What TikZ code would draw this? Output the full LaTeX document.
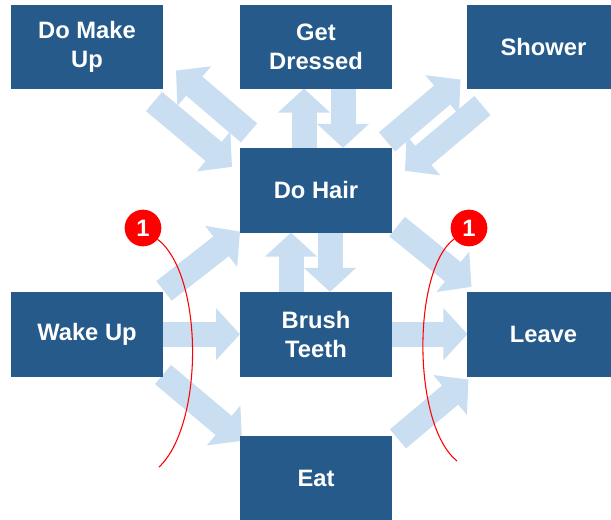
\documentclass[tikz,border=0pt]{standalone}
\usepackage{fontspec}
\setmainfont{Liberation Sans}
\usetikzlibrary{positioning,arrows.meta,backgrounds}
\definecolor{boxblue}{HTML}{255A8A}
\definecolor{flowblue}{HTML}{C9DEF1}

\begin{document}
\begin{tikzpicture}[
  x=0.75pt, y=-0.75pt,
  node distance=44.5pt and 57.75pt,
  font=\fontsize{17.8}{21.75}\selectfont\bfseries,
  stepbox/.style={fill=boxblue, text=white, minimum width=114pt, minimum height=63.5pt,
                  inner sep=0pt, outer sep=0pt, align=center},
  toprow/.style={stepbox, minimum height=62.5pt},
  badge/.style={circle, fill=red, text=white, minimum size=27.5pt, inner sep=0pt, outer sep=0pt},
  fl/.style={-{Triangle[length=18pt,width=38pt]}, line width=18.75pt, flowblue},
  arc line/.style={red, line width=0.8pt}
]
\clip (0,0) rectangle (611,519);
\useasboundingbox (0,0) rectangle (611,519);

\node[stepbox] (brush) at (316,334.2) {Brush\\Teeth};
\node[stepbox, above=of brush] (hair) {Do Hair};
\node[toprow, above=of hair] (dressed) {Get\\Dressed};
\node[toprow, left=of dressed] (makeup) {Do Make\\Up};
\node[toprow, right=56.6pt of dressed] (shower) {Shower};
\node[stepbox, left=of brush] (wake) {Wake Up};
\node[stepbox, right=56.6pt of brush] (leave) {Leave};
\node[stepbox, below=of brush] (eat) {Eat};

\begin{scope}[on background layer]
\foreach \a/\b in {wake/brush, brush/leave} \draw[fl] (\a) -- (\b);
% up and down pairs
\draw[fl] ([xshift=-12*0.75pt]hair.north) -- ([xshift=-12*0.75pt]dressed.south);
\draw[fl] ([xshift=27*0.75pt]dressed.south) -- ([xshift=27*0.75pt]hair.north);
\draw[fl] ([xshift=-25*0.75pt]brush.north) -- ([xshift=-25*0.75pt]hair.south);
\draw[fl] ([xshift=14*0.75pt]hair.south) -- ([xshift=14*0.75pt]brush.north);
% diagonals
\draw[fl] ([shift={(9,-15)}]hair.north west) -- ([shift={(13,-18)}]makeup.south east);
\draw[fl] ([shift={(-9,13)}]makeup.south east) -- ([shift={(-8,19)}]hair.north west);
\draw[fl] ([shift={(-5,-6)}]hair.north east) -- ([shift={(-7,-9)}]shower.south west);
\draw[fl] ([shift={(15,17)}]shower.south west) -- ([shift={(13,23)}]hair.north east);
\draw[fl] ([shift={(1,-1)}]wake.north east) -- ([shift={(0,-1)}]hair.south west);
\draw[fl] ([shift={(0,-2)}]wake.south east) -- ([shift={(2,5)}]eat.north west);
\draw[fl] ([shift={(5,-6)}]hair.south east) -- ([shift={(4,-5)}]leave.north west);
\draw[fl] ([shift={(6,3)}]eat.north east) -- ([shift={(1,3)}]leave.south west);
\end{scope}

\node[badge] (oneL) at (143,228) {1};
\node[badge] (oneR) at (469,228) {1};
\coordinate (endL) at (159,467);
\coordinate (endR) at (457,461);
\draw[arc line] (oneL) .. controls (204,275) and (204,425) .. (endL);
\draw[arc line] (oneR) .. controls (412,270) and (412,425) .. (endR);
\end{tikzpicture}
\end{document}
